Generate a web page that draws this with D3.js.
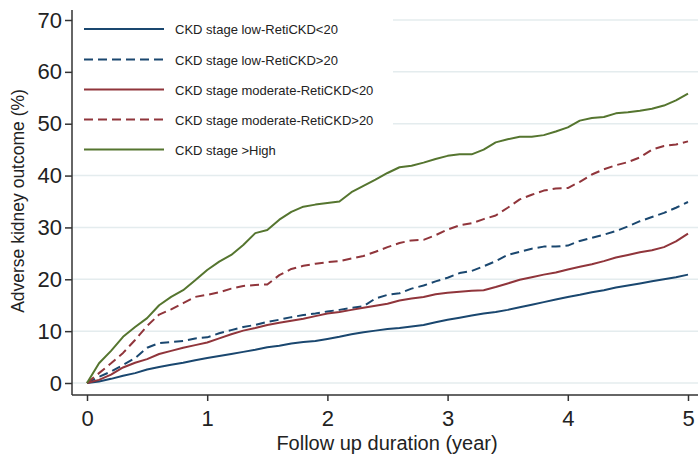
<!DOCTYPE html>
<meta charset="utf-8"/>
<style>
  body { margin: 0; background: #fff; }
  text { font-family: Arial, "Liberation Sans", sans-serif; fill: #222; }
  .grid line { stroke: #e4ecee; stroke-width: 1.5px; }
</style>
<svg width="698" height="458"></svg>
<script src="https://d3js.org/d3.v7.min.js"></script>
<script>

  // follow-up time (years), one reading every 0.1 year
  var years = [0, 0.1, 0.2, 0.3, 0.4, 0.5, 0.6, 0.7, 0.8, 0.9,
               1, 1.1, 1.2, 1.3, 1.4, 1.5, 1.6, 1.7, 1.8, 1.9,
               2, 2.1, 2.2, 2.3, 2.4, 2.5, 2.6, 2.7, 2.8, 2.9,
               3, 3.1, 3.2, 3.3, 3.4, 3.5, 3.6, 3.7, 3.8, 3.9,
               4, 4.1, 4.2, 4.3, 4.4, 4.5, 4.6, 4.7, 4.8, 4.9, 5];

  // cumulative adverse kidney outcome (%)
  var lowRetiLow = [0, 0.3, 0.8, 1.4, 1.9, 2.6, 3.1, 3.5, 3.9, 4.4,
                    4.8, 5.2, 5.6, 6.0, 6.4, 6.9, 7.2, 7.6, 7.9, 8.1,
                    8.5, 8.9, 9.4, 9.8, 10.1, 10.4, 10.6, 10.9, 11.2, 11.7,
                    12.2, 12.6, 13.0, 13.4, 13.7, 14.1, 14.6, 15.1, 15.6, 16.1,
                    16.6, 17.0, 17.5, 17.9, 18.4, 18.8, 19.2, 19.6, 20.0, 20.4, 20.9];
  var lowRetiHigh = [0, 1.2, 2.2, 3.5, 4.8, 6.8, 7.7, 7.9, 8.1, 8.6,
                     8.8, 9.6, 10.2, 10.8, 11.2, 11.8, 12.2, 12.7, 13.1, 13.4,
                     13.8, 14.1, 14.5, 14.8, 16.3, 17.0, 17.3, 18.2, 18.8, 19.6,
                     20.3, 21.2, 21.6, 22.5, 23.5, 24.7, 25.3, 25.9, 26.3, 26.3,
                     26.5, 27.4, 28.0, 28.6, 29.3, 30.2, 31.2, 32.0, 32.8, 33.8, 34.9];
  var modRetiLow = [0, 0.6, 1.6, 3.0, 3.9, 4.6, 5.6, 6.2, 6.8, 7.3,
                    7.8, 8.6, 9.4, 10.1, 10.6, 11.2, 11.6, 12.0, 12.4, 12.9,
                    13.4, 13.7, 14.1, 14.5, 14.9, 15.3, 15.9, 16.3, 16.6, 17.1,
                    17.4, 17.6, 17.8, 17.9, 18.5, 19.2, 19.9, 20.4, 20.9, 21.3,
                    21.9, 22.4, 22.9, 23.5, 24.2, 24.7, 25.2, 25.6, 26.2, 27.3, 28.8];
  var modRetiHigh = [0, 1.9, 3.8, 5.8, 8.3, 11.0, 13.2, 14.2, 15.4, 16.6,
                     17.0, 17.5, 18.2, 18.7, 18.9, 19.0, 20.8, 22.0, 22.6, 23.0,
                     23.3, 23.5, 24.0, 24.5, 25.3, 26.2, 27.0, 27.5, 27.6, 28.5,
                     29.6, 30.4, 30.8, 31.6, 32.3, 33.8, 35.4, 36.3, 37.1, 37.5,
                     37.6, 38.8, 40.2, 41.2, 42.0, 42.6, 43.5, 45.0, 45.7, 46.0, 46.6];
  var highStage = [0, 3.8, 6.2, 8.9, 10.8, 12.5, 15.0, 16.6, 17.9, 19.8,
                   21.8, 23.4, 24.7, 26.6, 28.9, 29.5, 31.5, 33.0, 34.0, 34.4,
                   34.7, 35.0, 36.8, 38.0, 39.2, 40.5, 41.6, 41.9, 42.5, 43.2,
                   43.8, 44.1, 44.1, 45.0, 46.4, 47.0, 47.5, 47.5, 47.8, 48.5,
                   49.3, 50.6, 51.1, 51.3, 52.0, 52.2, 52.5, 52.9, 53.5, 54.5, 55.8];

  var seriesNames = ["CKD stage low-RetiCKD<20", "CKD stage low-RetiCKD>20",
                     "CKD stage moderate-RetiCKD<20", "CKD stage moderate-RetiCKD>20",
                     "CKD stage >High"];
  var yTicks = [0, 10, 20, 30, 40, 50, 60, 70];
  var xTicks = [0, 1, 2, 3, 4, 5];

  var series = [
    { name: seriesNames[0], values: lowRetiLow,  color: "#1a476f", dash: null },
    { name: seriesNames[1], values: lowRetiHigh, color: "#1a476f", dash: "9,5" },
    { name: seriesNames[2], values: modRetiLow,  color: "#90353b", dash: null },
    { name: seriesNames[3], values: modRetiHigh, color: "#90353b", dash: "9,5" },
    { name: seriesNames[4], values: highStage,   color: "#55752f", dash: null }
  ];

  var svg = d3.select("svg");

  var x = d3.scaleLinear().domain([0, 5]).range([87, 688]);
  var y = d3.scaleLinear().domain([0, 70]).range([383, 20]);

  // gridlines
  svg.append("g")
    .attr("class", "grid")
    .selectAll("line")
    .data(yTicks)
    .enter().append("line")
    .attr("x1", 72)
    .attr("x2", 698)
    .attr("y1", function (d) { return y(d); })
    .attr("y2", function (d) { return y(d); });

  // legend sits on a white box that hides the gridlines behind it
  svg.append("rect")
    .attr("x", 73).attr("y", 0)
    .attr("width", 320).attr("height", 165)
    .attr("fill", "#fff");

  var line = d3.line()
    .x(function (d, i) { return x(years[i]); })
    .y(function (d) { return y(d); });

  svg.append("g")
    .selectAll("path")
    .data(series)
    .enter().append("path")
    .attr("d", function (d) { return line(d.values); })
    .attr("fill", "none")
    .attr("stroke", function (d) { return d.color; })
    .attr("stroke-width", 2)
    .attr("stroke-linejoin", "round")
    .attr("stroke-dasharray", function (d) { return d.dash; });

  // axes
  var yAxis = svg.append("g")
    .attr("transform", "translate(72,0)")
    .call(d3.axisLeft(y).tickValues(yTicks).tickSize(7).tickPadding(3));
  yAxis.select(".domain").remove();
  yAxis.append("line")
    .attr("x1", 0).attr("x2", 0).attr("y1", 10).attr("y2", 395)
    .attr("stroke", "#333").attr("stroke-width", 1.5);

  var xAxis = svg.append("g")
    .attr("transform", "translate(0,395)")
    .call(d3.axisBottom(x).tickValues(xTicks).tickFormat(d3.format("d")).tickSize(6).tickPadding(9));
  xAxis.select(".domain").remove();
  xAxis.append("line")
    .attr("x1", 72).attr("x2", 698).attr("y1", 0).attr("y2", 0)
    .attr("stroke", "#333").attr("stroke-width", 1.5);

  svg.selectAll(".tick line").attr("stroke", "#333").attr("stroke-width", 1.5);
  svg.selectAll(".tick text")
    .style("font-family", "Arial, 'Liberation Sans', sans-serif")
    .style("font-size", "22px")
    .attr("fill", "#222");

  // axis titles
  svg.append("text")
    .attr("x", 387).attr("y", 450)
    .attr("text-anchor", "middle")
    .style("font-size", "20px")
    .text("Follow up duration (year)");

  svg.append("text")
    .attr("transform", "translate(24,201) rotate(-90)")
    .attr("text-anchor", "middle")
    .style("font-size", "17.5px")
    .text("Adverse kidney outcome (%)");

  // legend
  var rowY = [29, 59.5, 89.5, 119.5, 149.5];
  var legend = svg.append("g")
    .selectAll("g")
    .data(series)
    .enter().append("g")
    .attr("transform", function (d, i) { return "translate(0," + rowY[i] + ")"; });

  legend.append("line")
    .attr("x1", 84).attr("x2", 164)
    .attr("stroke", function (d) { return d.color; })
    .attr("stroke-width", 2)
    .attr("stroke-dasharray", function (d) { return d.dash; });

  legend.append("text")
    .attr("x", 175).attr("y", 5)
    .style("font-size", "13px")
    .text(function (d) { return d.name; });

</script>
